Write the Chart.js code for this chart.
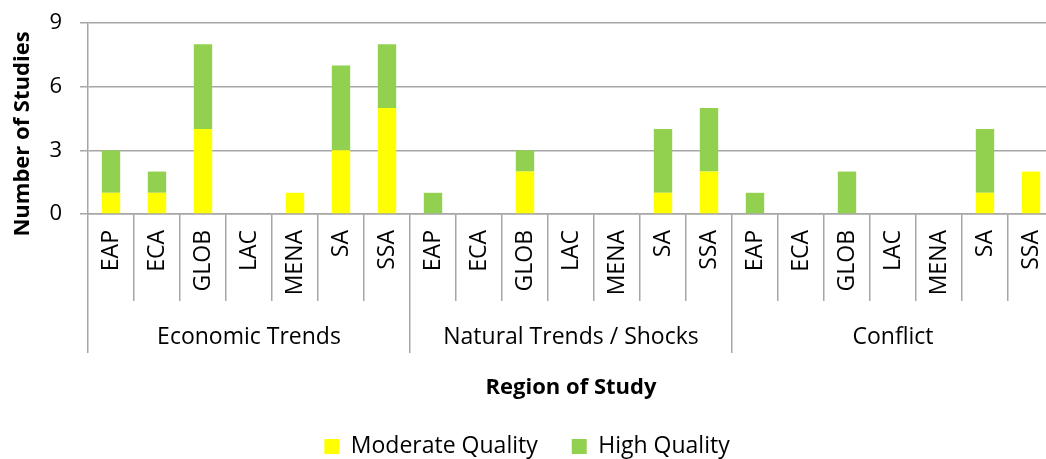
<!DOCTYPE html>
<html>
<head>
<meta charset="utf-8">
<script src="https://cdn.jsdelivr.net/npm/chart.js@4.4.1/dist/chart.umd.min.js"></script>
<style>
  html, body { margin: 0; padding: 0; background: #fff; overflow: hidden; }
  #wrap { position: relative; width: 1068px; height: 459px; }
</style>
</head>
<body>
<div id="wrap"><canvas id="chart" width="1068" height="459"></canvas></div>
<script>
// Study counts by driver group and region, split by study quality
const groups = ['Economic Trends', 'Natural Trends / Shocks', 'Conflict'];
const regions = ['EAP', 'ECA', 'GLOB', 'LAC', 'MENA', 'SA', 'SSA'];

const moderateEconomic = [1, 1, 4, 0, 1, 3, 5];
const moderateNatural  = [0, 0, 2, 0, 0, 1, 2];
const moderateConflict = [0, 0, 0, 0, 0, 1, 2];

const highEconomic = [2, 1, 4, 0, 0, 4, 3];
const highNatural  = [1, 0, 1, 0, 0, 3, 3];
const highConflict = [1, 0, 2, 0, 0, 3, 0];

const yTicks = [0, 3, 6, 9];

const FONT = "'Open Sans', 'Noto Sans', sans-serif";
const GRID = '#a6a6a6';

const labels = [...regions, ...regions, ...regions];
const moderate = [...moderateEconomic, ...moderateNatural, ...moderateConflict];
const high = [...highEconomic, ...highNatural, ...highConflict];

// Rotated y-axis title, placed beside the value axis
const yTitlePlugin = {
  id: 'yTitle',
  afterDraw(chart) {
    const ctx = chart.ctx;
    ctx.save();
    ctx.translate(23, 134);
    ctx.rotate(-Math.PI / 2);
    ctx.font = "bold 22px " + FONT;
    ctx.fillStyle = '#000';
    ctx.textAlign = 'center';
    ctx.textBaseline = 'middle';
    ctx.fillText('Number of Studies', 0, 0);
    ctx.restore();
  }
};

new Chart(document.getElementById('chart'), {
  type: 'bar',
  data: {
    labels: labels,
    datasets: [
      { label: 'Moderate Quality', data: moderate, backgroundColor: '#ffff00', xAxisID: 'x', barPercentage: 0.4, categoryPercentage: 1 },
      { label: 'High Quality', data: high, backgroundColor: '#92d050', xAxisID: 'x', barPercentage: 0.4, categoryPercentage: 1 }
    ]
  },
  options: {
    responsive: false,
    animation: false,
    layout: { padding: { top: 23, right: 14, left: 0, bottom: -9 } },
    plugins: {
      legend: {
        position: 'bottom',
        labels: {
          font: { family: FONT, size: 23 },
          color: '#000',
          boxWidth: 15,
          boxHeight: 15,
          padding: 34
        }
      },
      tooltip: { enabled: false }
    },
    scales: {
      y: {
        stacked: true,
        min: 0,
        max: 9,
        afterBuildTicks(scale) { scale.ticks = yTicks.map(v => ({ value: v })); },
        afterFit(scale) {
          scale.width = 88;
          scale.paddingTop = 0;
          scale.paddingBottom = 0;
        },
        ticks: { font: { family: FONT, size: 22 }, color: '#000', padding: 18 },
        grid: { color: GRID, lineWidth: 1.5, tickLength: 8 },
        border: { color: GRID, width: 1.5 }
      },
      x: {
        stacked: true,
        weight: 0,
        afterFit(scale) { scale.height = 87; },
        ticks: {
          font: { family: FONT, size: 23 },
          color: '#000',
          minRotation: 90,
          maxRotation: 90,
          autoSkip: false,
          padding: -71
        },
        grid: { offset: true, drawOnChartArea: false, color: GRID, lineWidth: 1.5, tickLength: 87 },
        border: { color: GRID, width: 1.5 }
      },
      grp: {
        type: 'category',
        labels: groups,
        position: 'bottom',
        weight: 1,
        afterFit(scale) { scale.height = 100; },
        ticks: { font: { family: FONT, size: 23 }, color: '#000', padding: -29 },
        grid: { offset: true, drawOnChartArea: false, color: GRID, lineWidth: 1.5, tickLength: 52 },
        border: { display: false },
        title: {
          display: true,
          text: 'Region of Study',
          font: { family: FONT, size: 22, weight: 'bold' },
          color: '#000',
          padding: { top: 9, bottom: 0 }
        }
      }
    }
  },
  plugins: [yTitlePlugin]
});
</script>
</body>
</html>
